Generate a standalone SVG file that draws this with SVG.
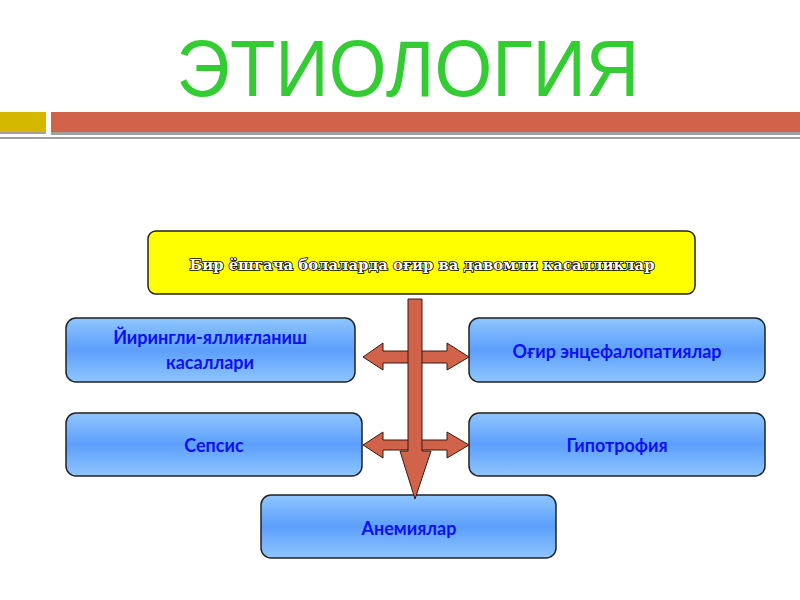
<svg xmlns="http://www.w3.org/2000/svg" width="800" height="600" viewBox="0 0 800 600">
<defs>
<linearGradient id="blue" x1="0" y1="0" x2="0" y2="1">
<stop offset="0" stop-color="#8fc6ff"/>
<stop offset="0.5" stop-color="#5c9ffc"/>
<stop offset="1" stop-color="#8fc6ff"/>
</linearGradient>
<style>
.box{fill:url(#blue);stroke:#222;stroke-width:1.5}
.lbl{font-family:Lato,"Liberation Sans",sans-serif;font-weight:bold;font-size:18px;fill:#1010f0;text-anchor:middle}
.arr{fill:#d0634a;stroke:#3a1a10;stroke-width:1}
</style>
</defs>
<rect width="800" height="600" fill="#fff"/>
<text x="408" y="96" font-family="Liberation Sans, Arial, sans-serif" font-size="80" fill="#33cc33" text-anchor="middle" textLength="463" lengthAdjust="spacingAndGlyphs">ЭТИОЛОГИЯ</text>
<rect x="0" y="132" width="46" height="2" fill="#a0a0a0"/>
<rect x="51" y="132" width="749" height="3" fill="#a0a0a0"/>
<rect x="0" y="137" width="800" height="2" fill="#a0a0a0"/>
<rect x="0" y="112" width="46" height="20" fill="#d4b800"/>
<rect x="51" y="112" width="749" height="20" fill="#d2634b"/>

<g id="top">
<rect x="148" y="231" width="547" height="63" rx="8" fill="#ffff00" stroke="#222" stroke-width="1.5"/>
<text x="422" y="270" font-family="DejaVu Serif, serif" font-weight="bold" font-size="14.5" fill="#fff" stroke="#000" stroke-width="1.6" paint-order="stroke" text-anchor="middle" textLength="465" lengthAdjust="spacingAndGlyphs">Бир ёшгача болаларда оғир ва давомли касалликлар</text>
</g>
<g id="n1">
<rect class="box" x="66" y="318" width="289" height="64" rx="10"/>
<text class="lbl" x="210" y="344">Йирингли-яллиғланиш</text>
<text class="lbl" x="210" y="369">касаллари</text>
</g>
<g id="n2">
<rect class="box" x="469" y="318" width="296" height="64" rx="10"/>
<text class="lbl" x="617" y="358">Оғир энцефалопатиялар</text>
</g>
<g id="n3">
<rect class="box" x="66" y="413" width="296" height="63" rx="10"/>
<text class="lbl" x="214" y="452">Сепсис</text>
</g>
<g id="n4">
<rect class="box" x="469" y="413" width="296" height="63" rx="10"/>
<text class="lbl" x="617" y="452">Гипотрофия</text>
</g>
<g id="n5">
<rect class="box" x="261" y="495" width="295" height="63" rx="10"/>
<text class="lbl" x="409" y="535">Анемиялар</text>
</g>

<g id="connectors">
<polygon class="arr" points="363,357 383,343 383,351 447,351 447,343 469,357 447,370 447,363 383,363 383,370"/>
<polygon class="arr" points="363,445 383,432 383,440 447,440 447,432 469,445 447,458 447,450 383,450 383,458"/>
<polygon class="arr" points="408,299 422,299 422,451 431,451 415,499 400,451 408,451"/>
</g>
</svg>
